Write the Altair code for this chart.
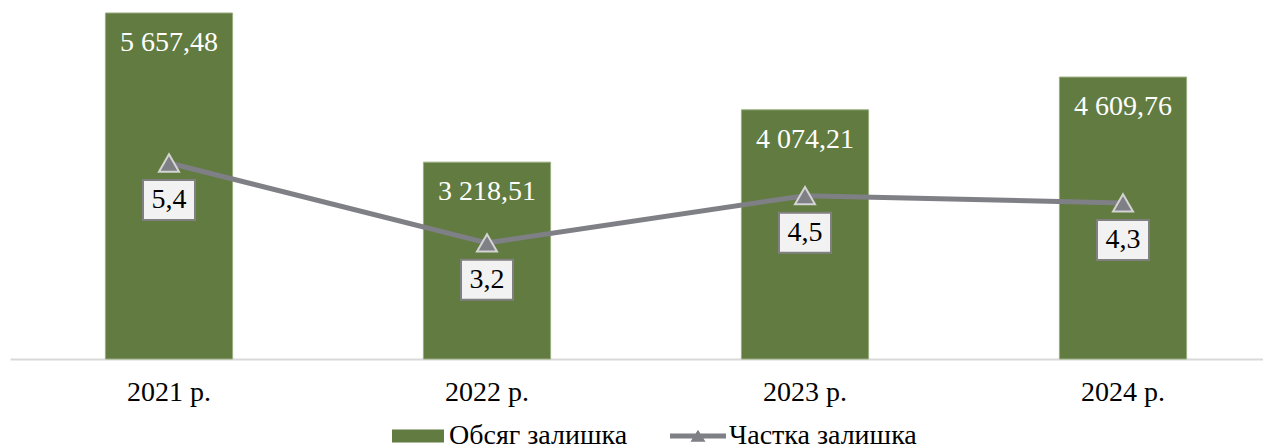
import altair as alt
import pandas as pd

years = ["2021 р.", "2022 р.", "2023 р.", "2024 р."]
volume = [5657.48, 3218.51, 4074.21, 4609.76]
share = [5.4, 3.2, 4.5, 4.3]
series_names = ["Обсяг залишка", "Частка залишка"]

def fmt_vol(v):
    return f"{v:,.2f}".replace(",", " ").replace(".", ",")

def fmt_share(v):
    return f"{v:.1f}".replace(".", ",")

df = pd.DataFrame({
    "year": years,
    "volume": volume,
    "share": share,
    "vol_label": [fmt_vol(v) for v in volume],
    "share_label": [fmt_share(v) for v in share],
})
legend_df = pd.DataFrame({"series": series_names})

FONT = "Liberation Serif"
FS = 28
GREEN = "#617b40"
GREY = "#7f7f86"

x = alt.X("year:N", sort=years, title=None,
          scale=alt.Scale(paddingInner=0.6, paddingOuter=0.3, range=[0, 1272]),
          axis=alt.Axis(labelAngle=0, labelFont=FONT, labelFontSize=FS, labelColor="black",
                        ticks=False, domainColor="#d9d9d9", domainWidth=2, labelPadding=19))

yv = alt.Y("volume:Q", scale=alt.Scale(domain=[0, 5739], nice=False, zero=True), axis=None)
ys = alt.Y("share:Q", scale=alt.Scale(domain=[0, 9.67], nice=False, zero=True), axis=None)

base = alt.Chart(df)

bars = base.mark_bar(color=GREEN, stroke="#9aae80", strokeWidth=1).encode(x=x, y=yv)
bar_text = base.mark_text(color="white", font=FONT, fontSize=FS, dy=30, baseline="middle").encode(
    x=x, y=yv, text="vol_label:N")

line = base.mark_line(color=GREY, strokeWidth=5).encode(x=x, y=ys)
tri = base.mark_point(shape="triangle-up", filled=True, fill=GREY, stroke="#d4d4d4",
                      strokeWidth=2, size=400, opacity=1).encode(x=x, y=ys)
box = base.mark_point(shape="M-1.3,-1H1.3V1H-1.3Z", filled=True, fill="#f2f2f2", stroke="#808080",
                      strokeWidth=2, size=1600, opacity=1, yOffset=37).encode(x=x, y=ys)
box_text = base.mark_text(color="black", font=FONT, fontSize=FS, dy=37, baseline="middle").encode(
    x=x, y=ys, text="share_label:N")

bar_sym = "M-1,-0.25H1V0.25H-1Z"
line_sym = "M-1.077,-0.1H1.077V0.1H-1.077Z M-0.29,0.22L0,-0.24L0.29,0.22Z"

legend_layer = alt.Chart(legend_df).mark_point(filled=True, opacity=0).encode(
    color=alt.Color("series:N", title=None,
                    scale=alt.Scale(domain=series_names, range=[GREEN, GREY])),
    shape=alt.Shape("series:N", title=None,
                    scale=alt.Scale(domain=series_names, range=[bar_sym, line_sym])),
)

chart = alt.layer(bars, bar_text, line, tri, box, box_text, legend_layer).resolve_scale(
    y="independent"
).properties(
    width=1253, height=351,
    padding={"left": 2, "top": 0, "right": 0, "bottom": 89},
    autosize=alt.AutoSizeParams(type="none"),
).configure_view(stroke=None).configure_legend(
    orient="none", legendX=382, legendY=402, direction="horizontal",
    labelFont=FONT, labelFontSize=FS, labelLimit=500,
    labelColor="black", symbolSize=2704, symbolOpacity=1, symbolStrokeWidth=0,
    columnPadding=41, labelOffset=5, padding=0,
)

chart.save("out.html", embed_options={"renderer": "svg", "actions": False})
